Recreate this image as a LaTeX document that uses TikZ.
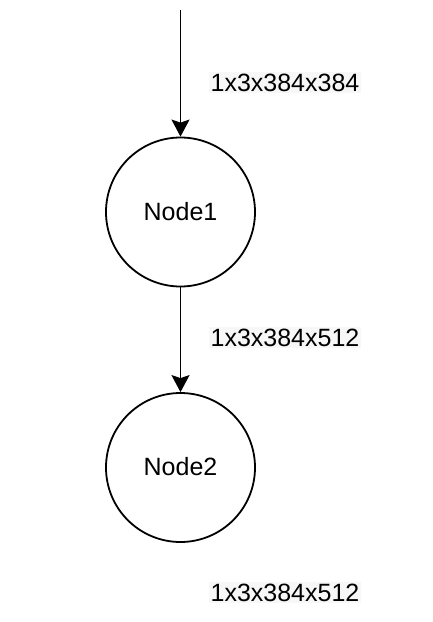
\documentclass[tikz,border=0pt]{standalone}
\usepackage{fontspec}
\setmainfont{Liberation Sans}
\usetikzlibrary{arrows.meta}
\begin{document}
\begin{tikzpicture}[x=1pt,y=-1pt,
  opnode/.style={circle,draw,line width=1.8pt,minimum size=149pt,inner sep=0pt,font=\fontsize{25}{30}\selectfont},
  shapelabel/.style={fill=black!3,inner sep=2pt,font=\fontsize{25}{30}\selectfont,anchor=base},
  flow/.style={line width=1.8pt,-{Stealth[length=17pt,width=18pt,inset=3pt]}}]
\useasboundingbox (0,0) rectangle (432,622);
\node[opnode] (n1) at (180.5,212) {};
\node[opnode] (n2) at (180.5,467.5) {};
\node[anchor=base,font=\fontsize{25}{30}\selectfont] (t1) at (180.5,220) {Node1};
\node[anchor=base,font=\fontsize{25}{30}\selectfont] (t2) at (180.5,475) {Node2};
\coordinate (src) at (180.5,10);
\draw[flow] (src) -- (n1.north);
\draw[flow] (n1.south) -- (n2.north);
\node[shapelabel] (l1) at (285,91) {1x3x384x384};
\node[shapelabel] (l2) at (285,346) {1x3x384x512};
\node[shapelabel] (l3) at (285,601) {1x3x384x512};
\end{tikzpicture}
\end{document}
